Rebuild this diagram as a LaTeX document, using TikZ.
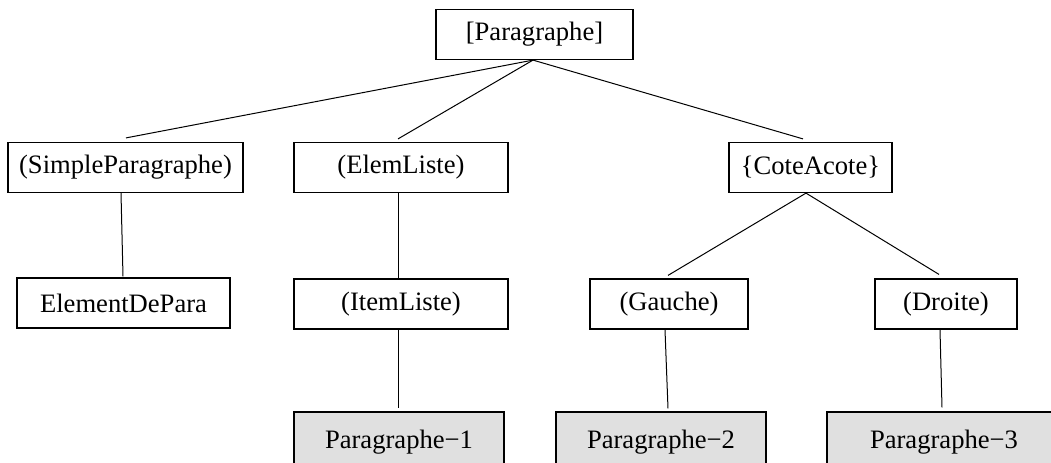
\documentclass[tikz,border=0pt]{standalone}
\usepackage{fontspec}
\setmainfont{Liberation Serif}
\tikzset{
  treebox/.style={draw, line width=0.6pt, minimum height=25pt, inner sep=0pt,
    font=\fontsize{13.3}{15}\selectfont},
  leafbox/.style={treebox, fill=black!12, minimum height=30pt},
  edge/.style={line width=0.5pt}
}
\begin{document}
\begin{tikzpicture}[x=0.5pt, y=-0.5pt]
            \useasboundingbox (0,0) rectangle (1051,462);
            \clip (0,0) rectangle (1051,462);

            % Define nodes
            \node[treebox, minimum width=98.5pt] (para) at (534.5,34.5) {[Paragraphe]};

            \node[treebox, minimum width=117.5pt] (simple) at (125.5,167.5) {(SimpleParagraphe)};
            \node[treebox, minimum width=107pt] (elem) at (401,167.5) {(ElemListe)};
            \node[treebox, minimum width=81.5pt] (cote) at (810.5,167.5) {\{CoteAcote\}};

            \node[treebox, minimum width=106.5pt] (elemdepara) at (123.5,303) {ElementDePara};
            \node[treebox, minimum width=107pt] (item) at (401,304) {(ItemListe)};
            \node[treebox, minimum width=79pt] (gauche) at (669,304) {(Gauche)};
            \node[treebox, minimum width=71pt] (droite) at (946,304) {(Droite)};

            \node[leafbox, minimum width=105pt] (p1) at (399,442) {Paragraphe−1};
            \node[leafbox, minimum width=105pt] (p2) at (661,442) {Paragraphe−2};
            \node[leafbox, minimum width=117pt] (p3) at (944,442) {Paragraphe−3};

            % Draw edges
            \draw[edge] ([xshift=-0.75pt]para.south) -- ([xshift=0.25pt, yshift=2pt]simple.north);
            \draw[edge] ([xshift=-0.75pt]para.south) -- ([xshift=-1.5pt, yshift=1.5pt]elem.north);
            \draw[edge] ([xshift=-0.75pt]para.south) -- ([xshift=-3.75pt, yshift=1.5pt]cote.north);

            \draw[edge] ([xshift=-2.25pt]simple.south) -- ([xshift=-0.25pt, yshift=0.5pt]elemdepara.north);
            \draw[edge] ([xshift=-1.5pt]elem.south) -- ([xshift=-1.5pt]item.north);
            \draw[edge] ([xshift=-2.25pt]cote.south) -- ([xshift=-0.5pt, yshift=1.5pt]gauche.north);
            \draw[edge] ([xshift=-2.25pt]cote.south) -- ([xshift=-3.5pt, yshift=2pt]droite.north);

            \draw[edge] ([xshift=-1.5pt]item.south) -- ([xshift=-0.5pt, yshift=1.5pt]p1.north);
            \draw[edge] ([xshift=-2pt]gauche.south) -- ([xshift=3.5pt, yshift=1.5pt]p2.north);
            \draw[edge] ([xshift=-3pt]droite.south) -- ([xshift=-1pt, yshift=2pt]p3.north);
        \end{tikzpicture}
\end{document}
